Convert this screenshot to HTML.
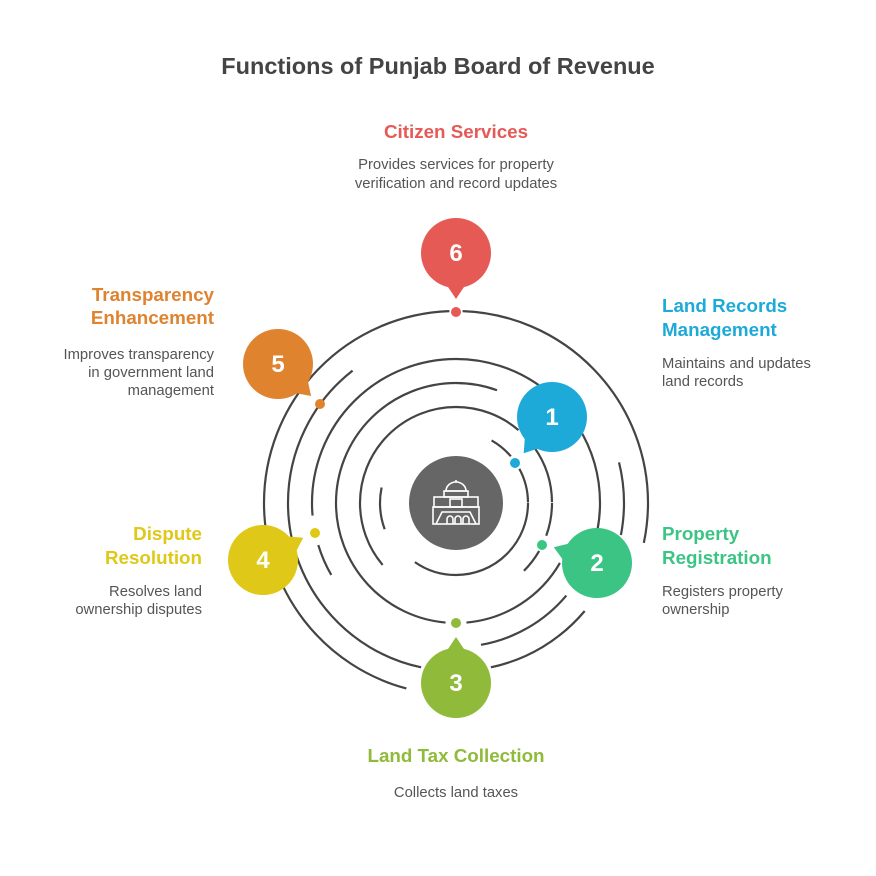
<!DOCTYPE html>
<html><head><meta charset="utf-8"><style>
html,body{margin:0;padding:0;background:#fff;}
svg{display:block;font-family:"Liberation Sans",sans-serif;}
</style></head><body>
<svg width="876" height="876" viewBox="0 0 876 876" xmlns="http://www.w3.org/2000/svg">
<rect width="876" height="876" fill="#fff"/>
<text x="438" y="74" text-anchor="middle" font-size="23.5" font-weight="bold" fill="#444">Functions of Punjab Board of Revenue</text>

<g fill="none" stroke="#444" stroke-width="2.2">
<circle cx="456" cy="503" r="192" pathLength="360" stroke-dasharray="163 400" stroke-dashoffset="-105"/>
<circle cx="456" cy="503" r="192" pathLength="360" stroke-dasharray="88 400" stroke-dashoffset="-272"/>
<circle cx="456" cy="503" r="192" pathLength="360" stroke-dasharray="12 400" stroke-dashoffset="0"/>
<circle cx="456" cy="503" r="168" pathLength="360" stroke-dasharray="38 400" stroke-dashoffset="-40"/>
<circle cx="456" cy="503" r="168" pathLength="360" stroke-dasharray="130 400" stroke-dashoffset="-102"/>
<circle cx="456" cy="503" r="168" pathLength="360" stroke-dasharray="14 400" stroke-dashoffset="-346"/>
<circle cx="456" cy="503" r="168" pathLength="360" stroke-dasharray="11 400" stroke-dashoffset="0"/>
<circle cx="456" cy="503" r="144" pathLength="360" stroke-dasharray="32 400" stroke-dashoffset="-328"/>
<circle cx="456" cy="503" r="144" pathLength="360" stroke-dasharray="11 400" stroke-dashoffset="0"/>
<circle cx="456" cy="503" r="144" pathLength="360" stroke-dasharray="40 400" stroke-dashoffset="-40"/>
<circle cx="456" cy="503" r="144" pathLength="360" stroke-dasharray="13 400" stroke-dashoffset="-150"/>
<circle cx="456" cy="503" r="144" pathLength="360" stroke-dasharray="130 400" stroke-dashoffset="-175"/>
<circle cx="456" cy="503" r="120" pathLength="360" stroke-dasharray="195 400" stroke-dashoffset="-95"/>
<circle cx="456" cy="503" r="120" pathLength="360" stroke-dasharray="55 400" stroke-dashoffset="-30"/>
<circle cx="456" cy="503" r="96" pathLength="360" stroke-dasharray="171 400" stroke-dashoffset="-140"/>
<circle cx="456" cy="503" r="96" pathLength="360" stroke-dasharray="35 400" stroke-dashoffset="-325"/>
<circle cx="456" cy="503" r="96" pathLength="360" stroke-dasharray="20 400" stroke-dashoffset="0"/>
<circle cx="456" cy="503" r="96" pathLength="360" stroke-dasharray="15 400" stroke-dashoffset="-30"/>
<circle cx="456" cy="503" r="72" pathLength="360" stroke-dasharray="20 400" stroke-dashoffset="-300"/>
<circle cx="456" cy="503" r="72" pathLength="360" stroke-dasharray="28 400" stroke-dashoffset="-332"/>
<circle cx="456" cy="503" r="72" pathLength="360" stroke-dasharray="125 400" stroke-dashoffset="0"/>
<circle cx="456" cy="503" r="76" pathLength="360" stroke-dasharray="32 400" stroke-dashoffset="-160"/>
</g>

<circle cx="456" cy="503" r="47" fill="#666"/>
<g fill="none" stroke="#fff" stroke-width="1.6">
<path d="M446 491 a10 9 0 0 1 20 0 Z"/>
<line x1="456" y1="480" x2="456" y2="482"/>
<rect x="444" y="491" width="24" height="6"/>
<rect x="434" y="497" width="44" height="10"/>
<rect x="450" y="499" width="12" height="8"/>
<rect x="433" y="507" width="46" height="17"/>
<path d="M436 524 L442 512 L470 512 L476 524"/>
<path d="M447 524 v-5 a3 3 0 0 1 6 0 v5 M455 524 v-5 a3 3 0 0 1 6 0 v5 M463 524 v-5 a3 3 0 0 1 6 0 v5"/>
</g>

<circle cx="456" cy="312" r="5" fill="#E55A55"/>
<circle cx="320" cy="404" r="5" fill="#E0832F"/>
<circle cx="515" cy="463" r="5" fill="#1EAAD9"/>
<circle cx="542" cy="545" r="5" fill="#3CC485"/>
<circle cx="456" cy="623" r="5" fill="#8FBA3A"/>
<circle cx="315" cy="533" r="5" fill="#DFC817"/>

<g font-size="24" font-weight="bold" fill="#fff" text-anchor="middle">
<g fill="#E55A55"><polygon transform="translate(456 253) rotate(90)" points="25,-14 46,0 25,14"/><circle cx="456" cy="253" r="35"/></g>
<text x="456" y="261">6</text>
<g fill="#E0832F"><polygon transform="translate(278 364) rotate(44)" points="25,-14 46,0 25,14"/><circle cx="278" cy="364" r="35"/></g>
<text x="278" y="372">5</text>
<g fill="#1EAAD9"><polygon transform="translate(552 417) rotate(128)" points="25,-14 46,0 25,14"/><circle cx="552" cy="417" r="35"/></g>
<text x="552" y="425">1</text>
<g fill="#3CC485"><polygon transform="translate(597 563) rotate(200)" points="25,-14 46,0 25,14"/><circle cx="597" cy="563" r="35"/></g>
<text x="597" y="571">2</text>
<g fill="#8FBA3A"><polygon transform="translate(456 683) rotate(-90)" points="25,-14 46,0 25,14"/><circle cx="456" cy="683" r="35"/></g>
<text x="456" y="691">3</text>
<g fill="#DFC817"><polygon transform="translate(263 560) rotate(-29)" points="25,-14 46,0 25,14"/><circle cx="263" cy="560" r="35"/></g>
<text x="263" y="568">4</text>
</g>

<g font-size="18.8" font-weight="bold">
<text x="456" y="138" text-anchor="middle" fill="#E55A55">Citizen Services</text>
<text x="662" y="312" fill="#1EAAD9">Land Records</text>
<text x="662" y="336" fill="#1EAAD9">Management</text>
<text x="214" y="301" text-anchor="end" fill="#E0832F">Transparency</text>
<text x="214" y="324" text-anchor="end" fill="#E0832F">Enhancement</text>
<text x="662" y="540" fill="#3CC485">Property</text>
<text x="662" y="564" fill="#3CC485">Registration</text>
<text x="202" y="540" text-anchor="end" fill="#DFC817">Dispute</text>
<text x="202" y="564" text-anchor="end" fill="#DFC817">Resolution</text>
<text x="456" y="762" text-anchor="middle" fill="#8FBA3A">Land Tax Collection</text>
</g>
<g font-size="14.8" fill="#555">
<text x="456" y="169" text-anchor="middle">Provides services for property</text>
<text x="456" y="188" text-anchor="middle">verification and record updates</text>
<text x="662" y="368">Maintains and updates</text>
<text x="662" y="386">land records</text>
<text x="214" y="359" text-anchor="end">Improves transparency</text>
<text x="214" y="377" text-anchor="end">in government land</text>
<text x="214" y="395" text-anchor="end">management</text>
<text x="662" y="596">Registers property</text>
<text x="662" y="614">ownership</text>
<text x="202" y="596" text-anchor="end">Resolves land</text>
<text x="202" y="614" text-anchor="end">ownership disputes</text>
<text x="456" y="797" text-anchor="middle">Collects land taxes</text>
</g>
</svg>
</body></html>
